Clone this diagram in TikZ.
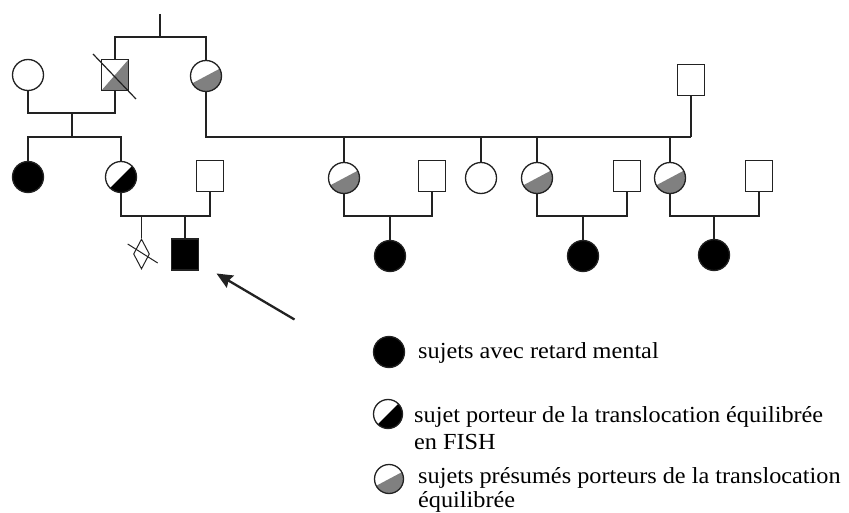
\documentclass[tikz,border=0pt]{standalone}
\usepackage{fontspec}
\setmainfont[FakeStretch=1.055]{Liberation Serif}
\usetikzlibrary{shapes.geometric,arrows.meta}
\definecolor{pgrey}{HTML}{808080}
\definecolor{pline}{HTML}{222222}
\tikzset{
  lw/.style={line width=1.3pt, draw=pline},
  male/.style={rectangle, draw=pline, line width=1.3pt, minimum width=27pt, minimum height=31pt, inner sep=0pt, fill=white},
  female/.style={circle, draw=pline, line width=1.3pt, minimum size=31pt, inner sep=0pt, fill=white},
  affected/.style={fill=black},
  fishcarrier/.style={path picture={\fill[black] (path picture bounding box.south west) -- (path picture bounding box.north east) -- (path picture bounding box.south east) -- cycle;}},
  presumed/.style={path picture={\fill[pgrey] (path picture bounding box.center) ++(208:30pt) -- ++(28:60pt) -- ++(-62:40pt) -- ++(208:60pt) -- cycle;}},
  greytri/.style={path picture={\fill[pgrey] (path picture bounding box.south west) -- (path picture bounding box.north east) -- (path picture bounding box.south east) -- cycle;}},
  legtext/.style={font=\fontsize{23}{27}\selectfont, inner sep=0pt, align=left},
}
\begin{document}
\begin{tikzpicture}[x=1pt,y=-1pt]
\useasboundingbox (0,0) rectangle (849,513);
% generation I
\node[female] (gmL) at (28,75) {};
\node[male, greytri] (gf) at (115,75) {};
\draw[pline, line width=1.2pt] (93,54) -- (136,99);
\node[female, presumed] (gm) at (206,76) {};
\node[male] (tr) at (691,80) {};
\coordinate (top) at (160,14);
\coordinate (topj) at (160,37);
\draw[lw] (top) -- (topj);
\draw[lw] (gf.north) |- (topj) -| (gm.north);
% couple gmL - gf
\coordinate (cj1) at (72,113);
\coordinate (sb1) at (72,137);
\draw[lw] (gmL.south) |- (cj1) -| (gf.south);
\draw[lw] (cj1) -- (sb1);
% generation II
\node[female, affected] (a1) at (28,177) {};
\node[female, fishcarrier] (fc) at (121,177) {};
\draw[lw] (a1.north) |- (sb1) -| (fc.north);
\node[male] (s0) at (210,176) {};
\coordinate (trj) at (691,137);
\draw[lw] (gm.south) |- (trj);
\draw[lw] (tr.south) -- (trj);
\node[female, presumed] (g1) at (344,178) {};
\node[male] (s1) at (432,176) {};
\node[female] (w1) at (481,178) {};
\node[female, presumed] (g2) at (537,178) {};
\node[male] (s2) at (627,176) {};
\node[female, presumed] (g3) at (670,178) {};
\node[male] (s3) at (759,176) {};
\draw[lw] (g1.north) -- (g1.north |- trj);
\draw[lw] (w1.north) -- (w1.north |- trj);
\draw[lw] (g2.north) -- (g2.north |- trj);
\draw[lw] (g3.north) -- (g3.north |- trj);
% generation III
\coordinate (cj2) at (165,216);
\draw[lw] (fc.south) |- (cj2) -| (s0.south);
\node[diamond, draw=pline, line width=1pt, minimum width=16pt, minimum height=30pt, inner sep=0pt] (dm) at (141.5,254) {};
\draw[pline, line width=1pt] (127.7,244) -- (157.7,263);
\node[male, affected] (pb) at (185,254.5) {};
\draw[lw] (dm.north) -- (dm.north |- cj2);
\draw[lw] (pb.north) -- (pb.north |- cj2);
\coordinate (cj3) at (390,216);
\coordinate (cj4) at (583,216);
\coordinate (cj5) at (714,216);
\draw[lw] (g1.south) |- (cj3) -| (s1.south);
\draw[lw] (g2.south) |- (cj4) -| (s2.south);
\draw[lw] (g3.south) |- (cj5) -| (s3.south);
\node[female, affected] (c1) at (390,256) {};
\node[female, affected] (c2) at (583,256) {};
\node[female, affected] (c3) at (714,255) {};
\draw[lw] (c1.north) -- (cj3);
\draw[lw] (c2.north) -- (cj4);
\draw[lw] (c3.north) -- (cj5);
% arrow
\coordinate (atail) at (294.5,319.5);
\coordinate (ahead) at (216.5,273.5);
\draw[pline, line width=2.3pt, -{Stealth[length=16pt, width=14pt, inset=2pt]}] (atail) -- (ahead);
% legend
\node[female, affected, minimum size=31pt] (l1) at (389,352) {};
\node[female, fishcarrier, minimum size=29pt] (l2) at (388,414) {};
\node[female, presumed, minimum size=29pt] (l3) at (389,479) {};
\node[legtext, anchor=base west] (t1) at (418,358) {sujets avec retard mental};
\node[legtext, anchor=north west] (t2) at (414,406) {sujet porteur de la translocation équilibrée\\en FISH};
\node[legtext, anchor=north west, font=\fontsize{23}{24}\selectfont] (t3) at (418,467.5) {sujets présumés porteurs de la translocation\\équilibrée};
\end{tikzpicture}
\end{document}
